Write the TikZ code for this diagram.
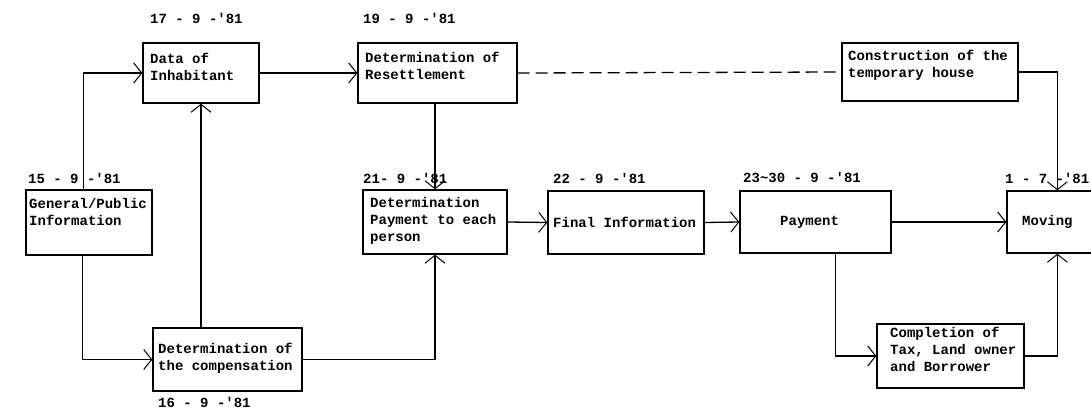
\documentclass[tikz,border=0pt]{standalone}
\usepackage{fontspec}
\setmonofont{Liberation Mono}
\usetikzlibrary{arrows.meta,calc}
\begin{document}
\begin{tikzpicture}[x=1pt,y=-1pt,
  box/.style={draw,line width=1.3pt,inner sep=0pt},
  txt/.style={anchor=west,inner sep=0pt,align=left,font=\ttfamily\bfseries\fontsize{14}{17}\selectfont},
  datelbl/.style={txt},
  conn/.style={line width=1.3pt},
  arr/.style={conn,-{Straight Barb[length=8pt,width=20pt,line width=1pt]}},
  dashconn/.style={conn,dash pattern=on 12pt off 6pt}]
\useasboundingbox (0,0) rectangle (1091,409);
% boxes
\node[box,minimum width=126pt,minimum height=65pt] (gen) at (89,222.5) {};
\node[box,minimum width=116pt,minimum height=60pt] (data) at (201,73) {};
\node[box,minimum width=159pt,minimum height=60pt] (res) at (437.5,73) {};
\node[box,minimum width=176pt,minimum height=58pt] (cons) at (930,72) {};
\node[box,minimum width=144pt,minimum height=64pt] (detp) at (435,222) {};
\node[box,minimum width=156pt,minimum height=63pt] (fin) at (626,222.5) {};
\node[box,minimum width=151pt,minimum height=62pt] (pay) at (815.5,222) {};
\node[box,minimum width=93pt,minimum height=62pt] (mov) at (1053.5,222) {};
\node[box,minimum width=149pt,minimum height=63pt] (comp) at (227.5,359.5) {};
\node[box,minimum width=147pt,minimum height=64pt] (compl) at (950.5,356) {};
% box texts
\node[txt] (gen-t) at (29,211.5) {General/Public\\Information};
\node[txt] (data-t) at (150,66.5) {Data of\\Inhabitant};
\node[txt] (res-t) at (365,65.5) {Determination of\\Resettlement};
\node[txt] (cons-t) at (848,65.5) {Construction of the\\temporary house};
\node[txt] (detp-t) at (370,221) {Determination\\Payment to each\\person};
\node[txt] (fin-t) at (553,222) {Final Information};
\node[txt] (pay-t) at (780,222) {Payment};
\node[txt] (mov-t) at (1022,222) {Moving};
\node[txt] (comp-t) at (158,358.5) {Determination of\\the compensation};
\node[txt] (compl-t) at (890,349) {Completion of\\Tax, Land owner\\and Borrower};
% dates
\node[datelbl] (d17) at (150,18) {17 - 9 -'81};
\node[datelbl] (d19) at (363,18) {19 - 9 -'81};
\node[datelbl] (d15) at (28,178) {15 - 9 -'81};
\node[datelbl] (d21) at (363,178) {21- 9 -'81};
\node[datelbl] (d22) at (553,178) {22 - 9 -'81};
\node[datelbl] (d23) at (743,178) {23\textasciitilde30 - 9 -'81};
\node[datelbl] (d1) at (1005,178) {1 - 7 -'81};
\node[datelbl] (d16) at (158,402) {16 - 9 -'81};
% helper coordinates
\coordinate (gtop) at ($(gen.north west)+(58,0)$);
\coordinate (gbot) at ($(gen.south west)+(57,0)$);
\coordinate (pbot) at ($(pay.south west)+(96,0)$);
\coordinate (mvt) at ($(mov.north west)+(51,0)$);
\coordinate (mvb) at ($(mov.south west)+(51,0)$);
% connectors
\draw[arr] (gtop) |- (data.west);
\draw[arr] (gbot) |- (comp.west);
\draw[arr] (comp.north -| data.south) -- (data.south);
\draw[arr] (data.east) -- (res.west);
\draw[arr] (res.south -| detp.north) -- (detp.north);
\draw[arr] (comp.east) -| (detp.south);
\draw[dashconn] (res.east) -- (cons.west);
\draw[arr] (cons.east) -| (mvt);
\draw[arr] (detp.east) -- (fin.west);
\draw[arr] (fin.east) -- (pay.west);
\draw[arr] (pay.east) -- (mov.west);
\draw[arr] (pbot) |- (compl.west);
\draw[arr] (compl.east) -| (mvb);
\end{tikzpicture}
\end{document}
